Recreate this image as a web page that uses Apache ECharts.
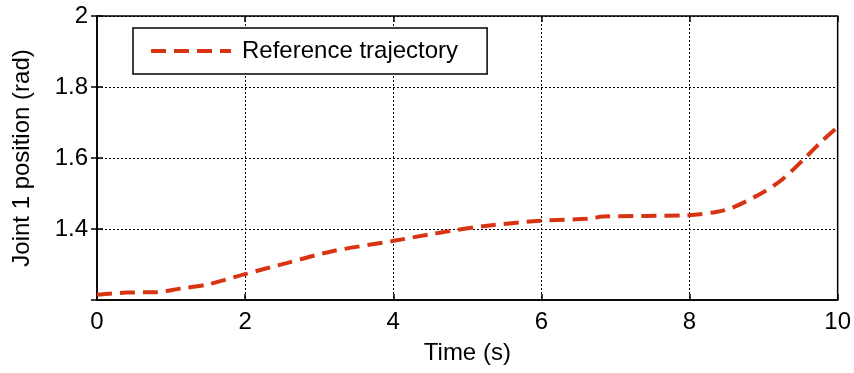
<!DOCTYPE html>
<html>
<head>
<meta charset="utf-8">
<script src="https://cdn.jsdelivr.net/npm/echarts@6/dist/echarts.min.js"></script>
<style>
  html, body { margin: 0; padding: 0; background: #fff; }
  #chart { width: 854px; height: 373px; }
</style>
</head>
<body>
<div id="chart"></div>
<script>
// values
var timeS = [0, 0.4, 0.8, 1.12, 1.48, 2.0, 2.56, 3.19, 3.99, 4.49, 4.76, 5.21, 5.98, 6.65, 6.83, 7.98, 8.36, 8.58, 8.99, 9.26, 9.55, 9.80, 10];
var jointPos = [1.215, 1.221, 1.222, 1.232, 1.243, 1.273, 1.304, 1.338, 1.366, 1.385, 1.394, 1.408, 1.423, 1.429, 1.435, 1.439, 1.448, 1.460, 1.503, 1.541, 1.598, 1.650, 1.687];
var xTicks = [0, 2, 4, 6, 8, 10];
var yTicks = [1.2, 1.4, 1.6, 1.8, 2];

var pts = [];
for (var i = 0; i < timeS.length; i++) {
    pts.push([timeS[i], jointPos[i]]);
}

var font = 'Liberation Sans, Arial, sans-serif';
var fs = 24;
var chart = echarts.init(document.getElementById('chart'), null, { renderer: 'canvas' });

var gridLine = { show: true, lineStyle: { color: '#000', type: [2, 2], width: 1 } };
var tickStyle = { show: true, inside: true, length: 6, lineStyle: { color: '#000', width: 1.5 } };

var option = {
    backgroundColor: '#fff',
    animation: false,
    grid: {
        left: 97, right: 16, top: 16, bottom: 73,
        show: true, borderColor: '#000', borderWidth: 1.5
    },
    legend: {
        left: 133, top: 28,
        padding: [11, 29, 11, 16],
        borderColor: '#000', borderWidth: 1.5,
        backgroundColor: '#fff',
        itemWidth: 80, itemHeight: 14,
        itemStyle: { opacity: 0, borderWidth: 0 },
        lineStyle: { width: 4 },
        textStyle: { fontFamily: font, fontSize: fs, color: '#000', padding: [0, 0, 0, 6] },
        data: ['Reference trajectory']
    },
    xAxis: [{
        type: 'value',
        min: 0, max: 10, interval: 2,
        name: 'Time (s)',
        nameLocation: 'middle',
        nameGap: 41,
        nameTextStyle: { fontFamily: font, fontSize: fs, color: '#000' },
        axisLine: { show: true, onZero: false, lineStyle: { color: '#000', width: 1.5 } },
        axisTick: tickStyle,
        axisLabel: { fontFamily: font, fontSize: fs, color: '#000', margin: 10,
            formatter: function (v) { return xTicks.indexOf(v) >= 0 ? String(v) : ''; } },
        splitLine: gridLine
    }, {
        type: 'value', position: 'top',
        min: 0, max: 10, interval: 2,
        axisLine: { show: false },
        axisTick: tickStyle,
        axisLabel: { show: false },
        splitLine: { show: false }
    }],
    yAxis: [{
        type: 'value',
        min: 1.2, max: 2, interval: 0.2,
        name: 'Joint 1 position (rad)',
        nameLocation: 'middle',
        nameGap: 63,
        nameTextStyle: { fontFamily: font, fontSize: fs, color: '#000' },
        axisLine: { show: true, lineStyle: { color: '#000', width: 1.5 } },
        axisTick: tickStyle,
        axisLabel: { fontFamily: font, fontSize: fs, color: '#000', margin: 9, showMinLabel: false,
            formatter: function (v) {
                var r = Math.round(v * 10) / 10;
                return yTicks.indexOf(r) >= 0 ? (r === 2 ? '2' : r.toFixed(1)) : '';
            } },
        splitLine: gridLine
    }, {
        type: 'value', position: 'right',
        min: 1.2, max: 2, interval: 0.2,
        axisLine: { show: false },
        axisTick: tickStyle,
        axisLabel: { show: false },
        splitLine: { show: false }
    }],
    series: [{
        name: 'Reference trajectory',
        type: 'line',
        smooth: 0.3,
        symbol: 'none',
        lineStyle: { color: '#d93412', width: 4, type: [15, 8] },
        itemStyle: { color: '#d93412' },
        data: pts
    }]
};
chart.setOption(option);
</script>
</body>
</html>
